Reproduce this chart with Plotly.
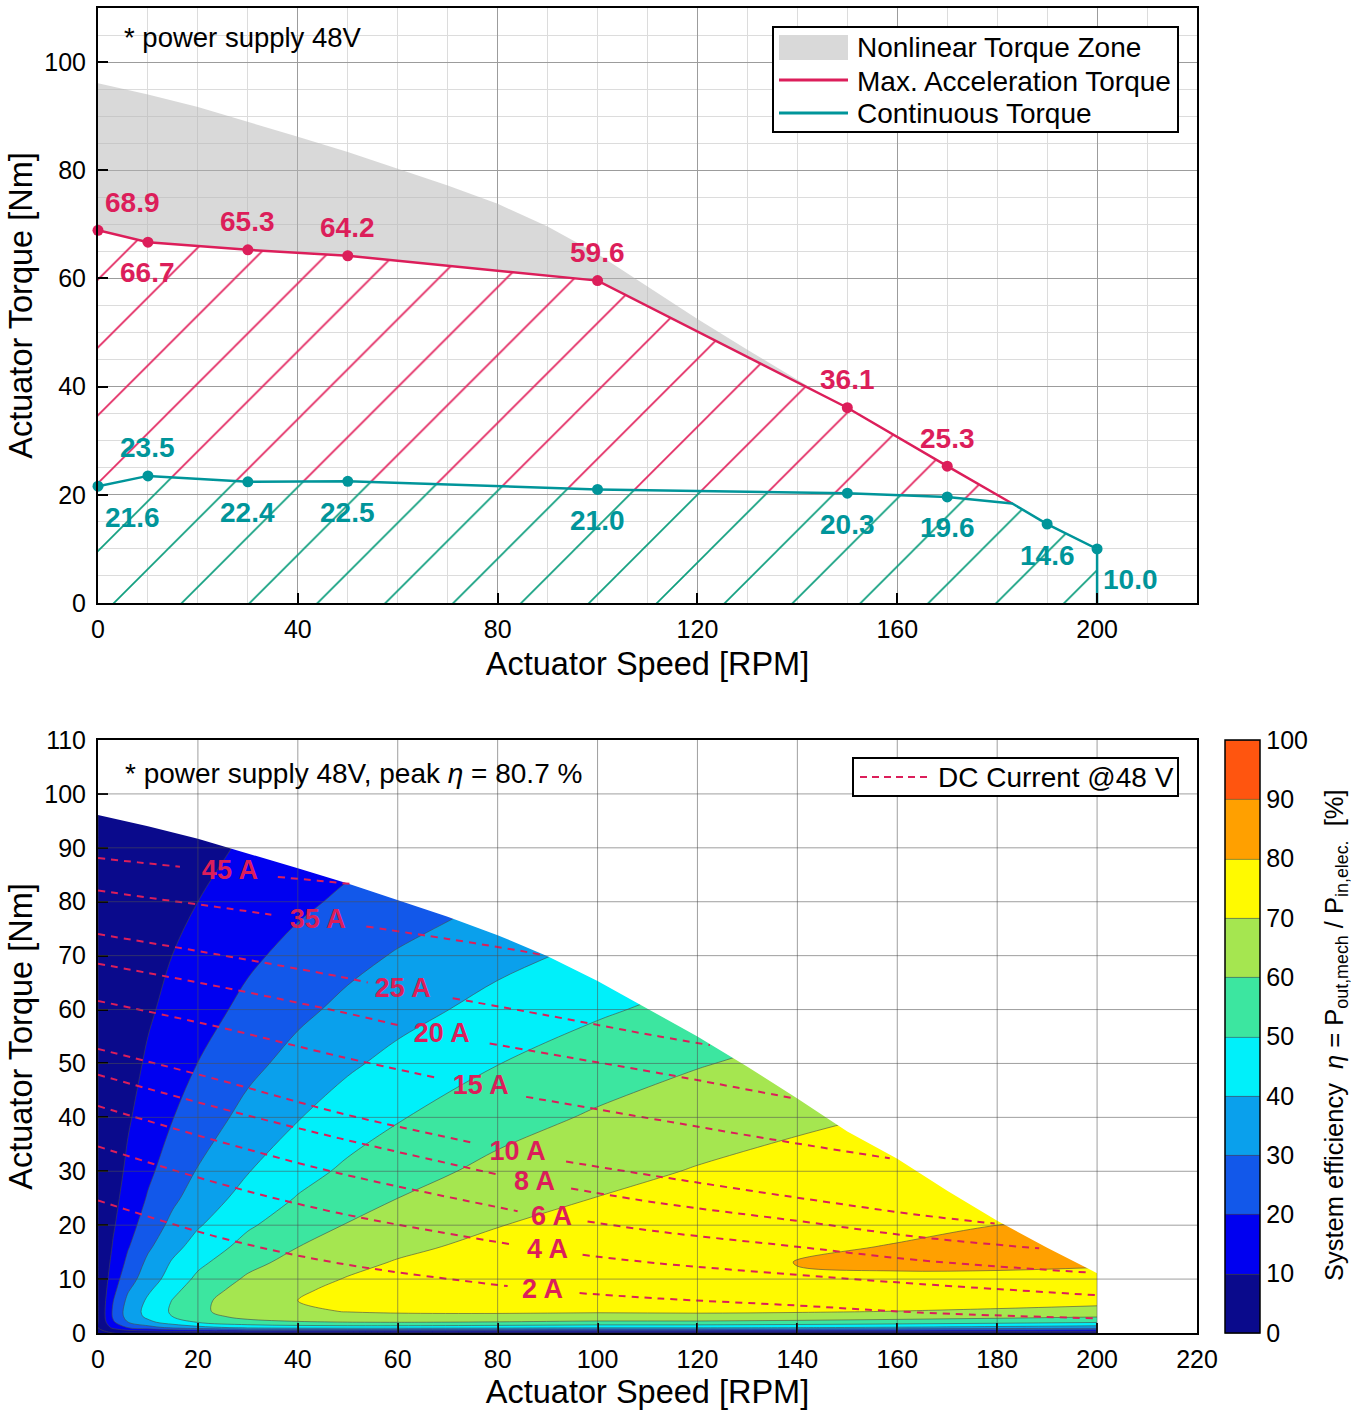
import plotly.graph_objects as go

FONT = "Liberation Sans, Arial, Helvetica, sans-serif"
RED = "#DC1E5A"
TEAL = "#00959A"
PINK_HATCH = "#E2245E"
TEAL_HATCH = "#0E9E7E"

# ---------------- top chart data ----------------
acc_speed = [0, 10, 30, 50, 100, 150, 170]
acc_torque = [68.9, 66.7, 65.3, 64.2, 59.6, 36.1, 25.3]

cont_speed = [0, 10, 30, 50, 100, 150, 170, 190, 200]
cont_torque = [21.6, 23.5, 22.4, 22.5, 21.0, 20.3, 19.6, 14.6, 10.0]

junction_speed = 183
junction_torque = 18.4

# upper edge of the nonlinear torque zone
nl_speed = [0, 10, 20, 30, 40, 50, 60, 70, 80, 90, 100, 110, 120, 130, 140, 145]
nl_torque = [96.1, 94.0, 91.7, 89.0, 86.2, 83.4, 80.3, 77.2, 73.8, 69.6, 64.5,
             58.5, 52.5, 46.8, 41.2, 38.5]

top_xticks = [0, 40, 80, 120, 160, 200]
top_yticks = [0, 20, 40, 60, 80, 100]
top_legend_names = ["Nonlinear Torque Zone", "Max. Acceleration Torque", "Continuous Torque"]

# ---------------- bottom chart data ----------------
env_speed = [0, 10, 20, 30, 40, 50, 60, 70, 80, 90, 100, 110, 120, 130, 140,
             150, 160, 170, 180, 190, 200]
env_torque = [96.1, 94.0, 91.7, 89.0, 86.2, 83.4, 80.3, 77.2, 73.8, 69.9, 65.3,
              60.2, 55.0, 49.4, 43.5, 37.4, 32.3, 26.4, 20.8, 15.8, 11.1]

eff_speed = [0, 3, 6, 10, 15, 20, 30, 40, 50, 60, 80, 100, 120, 140, 160, 180, 200]
eff_torque = [0, 1, 2, 3, 4, 6, 8, 10, 13, 16, 20, 25, 30, 40, 50, 60, 70, 80, 90, 100]
eff_pct = [
    [0, 0, 0, 0, 0, 0, 0, 0, 0, 0, 0, 0, 0, 0, 0, 0, 0],
    [0, 12.0, 20.2, 26.0, 32.0, 36.5, 42.1, 43.9, 44.5, 44.4, 43.3, 41.7, 41.6, 40.4, 38.6, 36.6, 34.3],
    [0, 18.4, 29.9, 37.5, 45.0, 50.5, 56.7, 59.0, 59.9, 60.2, 59.5, 58.1, 58.1, 57.0, 55.3, 53.2, 50.8],
    [0, 21.0, 33.6, 42.0, 50.0, 56.0, 62.8, 65.6, 66.9, 67.4, 67.3, 66.4, 66.6, 65.8, 64.3, 62.5, 60.3],
    [0, 21.3, 34.3, 43.0, 51.5, 58.0, 65.4, 68.6, 70.3, 71.2, 71.6, 71.2, 71.6, 71.0, 69.8, 68.3, 66.3],
    [0, 19.6, 32.3, 41.5, 50.5, 57.5, 65.9, 70.0, 72.4, 73.9, 75.4, 75.8, 76.6, 76.5, 75.8, 74.8, 73.4],
    [0, 17.2, 29.1, 38.5, 47.5, 55.0, 64.1, 68.9, 72.0, 74.0, 76.4, 77.4, 78.6, 78.9, 78.6, 78.1, 77.1],
    [0, 15.1, 26.0, 35.0, 44.5, 52.0, 61.5, 66.9, 70.5, 73.0, 76.1, 77.7, 79.2, 79.6, 79.5, 79.2, 79.0],
    [0, 12.6, 22.3, 32.1, 41.2, 48.0, 57.3, 63.4, 67.7, 70.7, 74.6, 77.0, 78.9, 80.1, 80.5, 80.7, 80.4],
    [0, 10.7, 19.3, 28.4, 37.1, 43.8, 53.4, 59.9, 64.5, 68.0, 72.6, 75.6, 77.9, 79.3, 80.2, 80.7, 80.8],
    [0, 8.9, 16.3, 24.5, 32.6, 39.1, 48.7, 55.5, 60.5, 64.3, 69.7, 73.2, 76.0, 77.8, 79.1, 80.0, 80.4],
    [0, 7.3, 13.7, 20.8, 28.2, 34.3, 43.7, 50.6, 55.9, 60.0, 66.0, 70.2, 73.3, 75.6, 77.2, 78.5, 79.3],
    [0, 6.2, 11.7, 18.1, 24.9, 30.6, 39.6, 46.5, 51.8, 56.2, 62.6, 67.1, 70.6, 73.2, 75.2, 76.7, 77.8],
    [0, 4.7, 9.0, 14.2, 19.8, 24.8, 33.0, 39.5, 44.9, 49.3, 56.1, 61.2, 65.2, 68.3, 70.7, 72.7, 74.2],
    [0, 3.7, 7.0, 11.2, 15.9, 20.1, 27.4, 33.4, 38.5, 42.8, 49.8, 55.1, 59.4, 62.8, 65.6, 68.0, 69.8],
    [0, 2.8, 5.5, 8.8, 12.6, 16.2, 22.4, 27.8, 32.4, 36.5, 43.3, 48.7, 53.1, 56.8, 59.8, 62.4, 64.6],
    [0, 2.2, 4.3, 6.9, 10.1, 13.0, 18.3, 22.9, 27.1, 30.8, 37.2, 42.4, 46.9, 50.6, 53.8, 56.6, 59.0],
    [0, 1.6, 3.2, 5.3, 7.7, 10.0, 14.3, 18.2, 21.7, 24.9, 30.7, 35.6, 39.8, 43.5, 46.7, 49.5, 52.0],
    [0, 1.2, 2.4, 4.0, 5.9, 7.7, 11.1, 14.2, 17.2, 19.9, 24.9, 29.2, 33.1, 36.6, 39.7, 42.4, 45.0],
    [0, 0.9, 1.9, 3.1, 4.5, 6.0, 8.7, 11.2, 13.7, 16.0, 20.2, 24.0, 27.5, 30.6, 33.5, 36.1, 38.5],
]

eff_levels = [0, 10, 20, 30, 40, 50, 60, 70, 80, 90, 100]
eff_colors = ["#0A0A8C", "#0000F0", "#1258EA", "#0AA0EC", "#00F0FA",
              "#3CE6A0", "#A5E650", "#FFFA00", "#FFA000", "#FF550F"]

# DC current lines (None = gap for the label)
dc_names = ["45 A", "35 A", "25 A", "20 A", "15 A", "10 A", "8 A", "6 A", "4 A", "2 A"]
dc_speed = {
    "45 A": [0, 8, 16.4, None, 36, 44, 50.5],
    "35 A": [0, 12, 24, 34.7, None, 53.7, 70, 85.7, 89],
    "25 A": [0, 24, 48.4, 54, None, 71, 90, 112.4, 122.5],
    "20 A": [0, 24, 48.4, 61, None, 78.4, 95, 112.4, 139.4],
    "15 A": [0, 24, 48.4, 68.5, None, 85.7, 112.4, 135, 158.5],
    "10 A": [0, 24, 48.4, 75.5, None, 93.7, 112.4, 140, 164.4, 179.5],
    "8 A": [0, 24, 48.4, 80.5, None, 94.7, 112.4, 140, 164.4, 188.4],
    "6 A": [0, 24, 48.4, 84, None, 98, 112.4, 140, 164.4, 198.5],
    "4 A": [0, 24, 48.4, 83, None, 97, 112.4, 140, 164.4, 200],
    "2 A": [0, 24, 48.4, 82, None, 96.4, 112.4, 140, 164.4, 200],
}
dc_torque = {
    "45 A": [88.1, 87.3, 86.5, None, 84.6, 83.9, 83.3],
    "35 A": [82.1, 80.5, 79.0, 77.6, None, 75.4, 73.1, 70.7, 70.1],
    "25 A": [74.0, 70.2, 66.1, 65.0, None, 62.1, 58.9, 55.0, 53.4],
    "20 A": [68.5, 64.3, 59.6, 56.9, None, 53.7, 51.0, 48.2, 43.5],
    "15 A": [61.6, 56.8, 51.3, 47.2, None, 43.8, 39.5, 35.9, 32.4],
    "10 A": [52.7, 47.0, 40.8, 35.2, None, 31.8, 29.0, 25.1, 21.9, 20.3],
    "8 A": [47.9, 41.8, 36.1, 29.3, None, 26.8, 24.1, 20.8, 17.8, 15.7],
    "6 A": [42.1, 35.6, 29.6, 22.6, None, 20.7, 18.8, 16.0, 13.5, 11.2],
    "4 A": [34.6, 27.8, 22.2, 16.4, None, 14.5, 12.9, 10.8, 9.1, 7.0],
    "2 A": [24.6, 17.8, 12.9, 8.7, None, 7.4, 6.4, 5.1, 3.8, 2.7],
}
dc_label_speed = [26.4, 44, 61, 68.8, 76.6, 84, 87.4, 90.8, 90, 89]
dc_label_torque = [85.5, 76.3, 63.6, 55.3, 45.5, 33.4, 27.8, 21.3, 15.2, 7.8]
dc_legend_name = "DC Current @48 V"

bot_xticks = [0, 20, 40, 60, 80, 100, 120, 140, 160, 180, 200, 220]
bot_yticks = [0, 10, 20, 30, 40, 50, 60, 70, 80, 90, 100, 110]

# ---------------- styling / placement (pixels) ----------------
acc_label_shift = [(34, 28), (0, -30), (0, 28), (0, 28), (0, 28), (0, 28), (0, 28)]
cont_label_shift = [(34, -31), (0, 28), (0, -31), (0, -31), (0, -31), (0, -31), (0, -31),
                    (0, -31), (33, -31)]

PL, PR, PT, PB = 98, 1197, 8, 1333   # plot area in pixels
def px(xp):
    return (xp - PL) / (PR - PL)
def py(yp):
    return (PB - yp) / (PB - PT)

# ---------------- build figure ----------------
fig = go.Figure()

red_x = acc_speed + [junction_speed]
red_y = acc_torque + [junction_torque]
teal_x = cont_speed[:7] + [junction_speed] + cont_speed[7:] + [cont_speed[-1]]
teal_y = cont_torque[:7] + [junction_torque] + cont_torque[7:] + [0]

red_under = [(x, y) for x, y in zip(acc_speed, acc_torque) if x < nl_speed[-1]]
gray_x = nl_speed + [p[0] for p in reversed(red_under)]
gray_y = nl_torque + [p[1] for p in reversed(red_under)]

pink_x = red_x + list(reversed(teal_x[:8]))
pink_y = red_y + list(reversed(teal_y[:8]))

GRAY_FILL = "rgba(180,180,180,0.5)"
fig.add_trace(go.Scatter(x=gray_x, y=gray_y, mode="lines", fill="toself",
                         fillcolor=GRAY_FILL, line=dict(width=0),
                         name=top_legend_names[0], hoverinfo="skip"))
fig.add_trace(go.Scatter(x=pink_x, y=pink_y, mode="lines", fill="toself",
                         fillcolor=PINK_HATCH, line=dict(width=0),
                         fillpattern=dict(shape="/", fgcolor=PINK_HATCH, fgopacity=1, size=48,
                                          solidity=0.035, bgcolor="rgba(0,0,0,0)"),
                         hoverinfo="skip"))
fig.add_trace(go.Scatter(x=teal_x, y=teal_y, mode="lines", fill="tozeroy",
                         fillcolor=TEAL_HATCH, line=dict(width=0),
                         fillpattern=dict(shape="/", fgcolor=TEAL_HATCH, fgopacity=1, size=48,
                                          solidity=0.035, bgcolor="rgba(0,0,0,0)"),
                         hoverinfo="skip"))
fig.add_trace(go.Scatter(x=red_x, y=red_y, mode="lines", line=dict(color=RED, width=2.5),
                         name=top_legend_names[1]))
fig.add_trace(go.Scatter(x=teal_x, y=teal_y, mode="lines", line=dict(color=TEAL, width=2.5),
                         name=top_legend_names[2]))
fig.add_trace(go.Scatter(x=acc_speed, y=acc_torque, mode="markers",
                         marker=dict(color=RED, size=11), cliponaxis=False))
fig.add_trace(go.Scatter(x=cont_speed, y=cont_torque, mode="markers",
                         marker=dict(color=TEAL, size=11), cliponaxis=False))

annotations = []
for xv, yv, (dx, dy) in zip(acc_speed, acc_torque, acc_label_shift):
    annotations.append(dict(x=xv, y=yv, xref="x", yref="y", text=f"{yv:.1f}", showarrow=False,
                            xshift=dx, yshift=dy, xanchor="center", yanchor="middle",
                            font=dict(color=RED, size=28, weight="bold")))
for xv, yv, (dx, dy) in zip(cont_speed, cont_torque, cont_label_shift):
    annotations.append(dict(x=xv, y=yv, xref="x", yref="y", text=f"{yv:.1f}", showarrow=False,
                            xshift=dx, yshift=dy, xanchor="center", yanchor="middle",
                            font=dict(color=TEAL, size=28, weight="bold")))

# bottom: efficiency map
lo, hi = eff_levels[0], eff_levels[-1]
step = eff_levels[1] - eff_levels[0]
span = (hi - lo) + step
cscale = []
for k, c in enumerate(eff_colors):
    a = (eff_levels[k] - lo + step / 2) / span
    b = (eff_levels[k + 1] - lo + step / 2) / span
    if k == 0:
        a = 0.0
    if k == len(eff_colors) - 1:
        b = 1.0
    cscale.append([a, c])
    cscale.append([b, c])

fig.add_trace(go.Contour(
    x=eff_speed, y=eff_torque, z=eff_pct, xaxis="x2", yaxis="y2",
    zmin=lo, zmax=hi, autocontour=False,
    contours=dict(start=lo, end=hi, size=step, coloring="fill", showlines=True),
    line=dict(color="rgba(70,70,70,0.75)", width=0.8, smoothing=1.0),
    colorscale=cscale, hoverinfo="skip",
    colorbar=dict(x=px(1225), xanchor="left", y=0, yanchor="bottom",
                  len=(1333 - 740) / (PB - PT), lenmode="fraction", thickness=35,
                  thicknessmode="pixels", xpad=0, ypad=0, outlinewidth=1.5, outlinecolor="black",
                  tickvals=eff_levels, ticks="", tickfont=dict(size=25)),
))

mask_x = env_speed + [env_speed[-1], 220, 220, 0]
mask_y = env_torque + [0, 0, 110, 110]
fig.add_trace(go.Scatter(x=mask_x, y=mask_y, xaxis="x2", yaxis="y2", mode="lines",
                         fill="toself", fillcolor="white", line=dict(width=0), hoverinfo="skip"))

for nm in dc_names:
    fig.add_trace(go.Scatter(x=dc_speed[nm], y=dc_torque[nm], xaxis="x2", yaxis="y2",
                             mode="lines", line=dict(color=RED, width=2, dash="7px,6px", shape="spline"),
                             connectgaps=False, name=dc_legend_name, hoverinfo="skip"))
fig.add_trace(go.Scatter(x=dc_label_speed, y=dc_label_torque, xaxis="x2", yaxis="y2",
                         mode="text", text=dc_names,
                         textfont=dict(color=RED, size=27, weight="bold"), hoverinfo="skip"))

# grid on top of the map
shapes = []
for v in bot_xticks[1:-1]:
    shapes.append(dict(type="line", xref="x2", yref="y2", x0=v, x1=v, y0=bot_yticks[0], y1=bot_yticks[-1],
                       line=dict(color="rgba(80,80,80,0.55)", width=1), layer="above"))
for v in bot_yticks[1:-1]:
    shapes.append(dict(type="line", xref="x2", yref="y2", x0=bot_xticks[0], x1=bot_xticks[-1], y0=v, y1=v,
                       line=dict(color="rgba(80,80,80,0.55)", width=1), layer="above"))

# legend boxes (drawn as shapes + text)
LEG_FONT = dict(size=28)
shapes.append(dict(type="rect", xref="paper", yref="paper", x0=px(773), x1=px(1178), y0=py(132), y1=py(27),
                   fillcolor="white", line=dict(color="black", width=2), layer="above"))
shapes.append(dict(type="rect", xref="paper", yref="paper", x0=px(779), x1=px(848), y0=py(60), y1=py(35),
                   fillcolor="#d9d9d9", line=dict(width=0), layer="above"))
shapes.append(dict(type="line", xref="paper", yref="paper", x0=px(779), x1=px(848), y0=py(80), y1=py(80),
                   line=dict(color=RED, width=3), layer="above"))
shapes.append(dict(type="line", xref="paper", yref="paper", x0=px(779), x1=px(848), y0=py(113), y1=py(113),
                   line=dict(color=TEAL, width=3), layer="above"))
for name, yc in zip(top_legend_names, [47, 81, 114]):
    annotations.append(dict(text=name, xref="paper", yref="paper", x=px(855), y=py(yc),
                            xanchor="left", yanchor="middle", showarrow=False, font=LEG_FONT))

shapes.append(dict(type="rect", xref="paper", yref="paper", x0=px(853), x1=px(1178), y0=py(796), y1=py(758),
                   fillcolor="white", line=dict(color="black", width=2), layer="above"))
shapes.append(dict(type="line", xref="paper", yref="paper", x0=px(860), x1=px(932), y0=py(777), y1=py(777),
                   line=dict(color=RED, width=2, dash="7px,5px"), layer="above"))
annotations.append(dict(text=dc_legend_name, xref="paper", yref="paper", x=px(936), y=py(777),
                        xanchor="left", yanchor="middle", showarrow=False, font=LEG_FONT))

annotations += [
    dict(text="* power supply 48V", xref="paper", yref="paper", x=px(122), y=py(38),
         xanchor="left", yanchor="middle", showarrow=False, font=dict(size=27.5)),
    dict(text="* power supply 48V, peak <i>η</i> = 80.7 %", xref="paper", yref="paper",
         x=px(123), y=py(773), xanchor="left", yanchor="middle", showarrow=False, font=dict(size=28)),
    dict(text="System efficiency  <i>η</i> = P<sub>out,mech</sub> / P<sub>in,elec.</sub>  [%]",
         xref="paper", yref="paper", x=px(1336), y=py(1035),
         xanchor="center", yanchor="middle", textangle=-90, showarrow=False, font=dict(size=25.5)),
]

axis_common = dict(showline=True, linecolor="black", linewidth=2, mirror=True,
                   ticks="inside", ticklen=10, tickwidth=1.5, tickcolor="black",
                   zeroline=False, tickfont=dict(size=25), automargin=False)
xstand = 3
ystand = 5
TITLE_FONT = dict(size=32.5)

fig.update_layout(
    width=1358, height=1410,
    margin=dict(l=PL, r=1358 - PR, t=PT, b=1410 - PB),
    paper_bgcolor="white", plot_bgcolor="white", showlegend=False,
    font=dict(family=FONT, size=25, color="black"),
    xaxis=dict(domain=[0, 1], anchor="y", range=[0, 220], tickvals=top_xticks,
               showgrid=True, gridcolor="#9c9c9c", gridwidth=1, ticklabelstandoff=xstand,
               minor=dict(dtick=10, tick0=0, showgrid=True, gridcolor="#dcdcdc", gridwidth=1, ticks=""),
               title=dict(text="Actuator Speed [RPM]", font=TITLE_FONT, standoff=10),
               **axis_common),
    yaxis=dict(domain=[py(603), 1], anchor="x", range=[0, 110], tickvals=top_yticks,
               showgrid=True, gridcolor="#9c9c9c", gridwidth=1, ticklabelstandoff=ystand,
               minor=dict(dtick=5, tick0=0, showgrid=True, gridcolor="#dcdcdc", gridwidth=1, ticks=""),
               title=dict(text="Actuator Torque [Nm]", font=TITLE_FONT, standoff=2),
               **axis_common),
    xaxis2=dict(domain=[0, 1], anchor="y2", range=[0, 220], tickvals=bot_xticks, showgrid=False,
                ticklabelstandoff=xstand,
                title=dict(text="Actuator Speed [RPM]", font=TITLE_FONT, standoff=10),
                **axis_common),
    yaxis2=dict(domain=[0, py(740)], anchor="x2", range=[0, 110], tickvals=bot_yticks,
                showgrid=False, ticklabelstandoff=ystand,
                title=dict(text="Actuator Torque [Nm]", font=TITLE_FONT, standoff=2),
                **axis_common),
    shapes=shapes,
    annotations=annotations,
)

fig.write_html("out.html", config={"displayModeBar": False},
               post_script="document.body.style.margin='0';")
